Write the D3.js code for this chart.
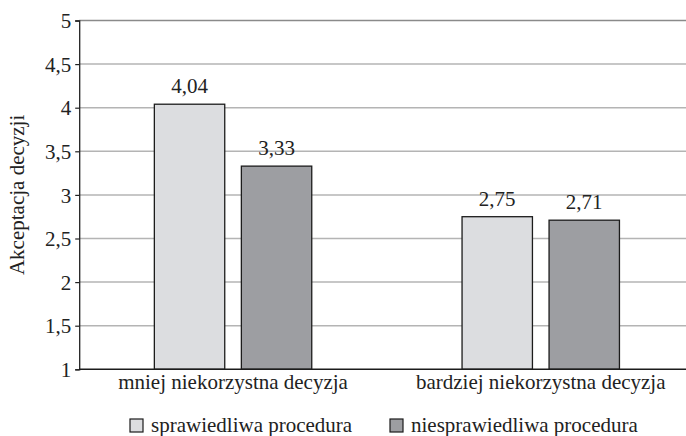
<!DOCTYPE html>
<html>
<head>
<meta charset="utf-8">
<script src="https://cdn.jsdelivr.net/npm/d3@7"></script>
<style>
  html, body { margin: 0; padding: 0; background: #fff; }
  svg { display: block; }
</style>
</head>
<body>
<svg id="chart" width="686" height="436"></svg>
<script>
// Decision acceptance by outcome favourability and procedure fairness
const categories = ["mniej niekorzystna decyzja", "bardziej niekorzystna decyzja"];
const seriesNames = ["sprawiedliwa procedura", "niesprawiedliwa procedura"];
const fairValues = [4.04, 2.75];
const unfairValues = [3.33, 2.71];
const yTicks = [1, 1.5, 2, 2.5, 3, 3.5, 4, 4.5, 5];
const seriesColors = ["#dcdde0", "#9d9ea2"];

const FONT = "'Liberation Serif', 'Times New Roman', serif";
const FS = 21;

const svg = d3.select("#chart");
const margin = { left: 79.2, top: 20.5, bottom: 369.3, right: 694.6 };

const x = d3.scaleBand().domain(categories).range([margin.left, margin.right]).padding(0);
const inner = d3.scaleBand().domain(seriesNames)
  .range([x.bandwidth() / 2 - 78.7, x.bandwidth() / 2 + 78.7])
  .paddingInner(0.191).paddingOuter(0);
const y = d3.scaleLinear().domain([1, 5]).range([margin.bottom, margin.top]);

const fmt = v => String(v).replace(".", ",");
const fmtVal = v => v.toFixed(2).replace(".", ",");

// Horizontal gridlines
svg.append("g").selectAll("line").data(yTicks.filter(t => t > 1)).join("line")
  .attr("x1", margin.left).attr("x2", margin.right)
  .attr("y1", d => y(d)).attr("y2", d => y(d))
  .attr("stroke", d => d === 5 ? "#8a8a8a" : "#b4b4b4")
  .attr("stroke-width", 1.5);

// Y axis
const yAxis = d3.axisLeft(y).tickValues(yTicks).tickFormat(fmt).tickSize(4).tickPadding(4);
const gy = svg.append("g").attr("transform", `translate(${margin.left},0)`).call(yAxis)
  .attr("font-family", FONT).attr("font-size", FS);
gy.select(".domain").attr("stroke", "#222").attr("stroke-width", 1.3);
gy.selectAll(".tick line").attr("stroke", "#222").attr("stroke-width", 1.2);
gy.selectAll(".tick text").attr("font-family", FONT).attr("font-size", FS)
  .attr("fill", "#222").attr("dy", "0.34em");

// Bars
const rows = categories.map((c, i) => ({ cat: c, vals: [fairValues[i], unfairValues[i]] }));
const groups = svg.append("g").selectAll("g").data(rows).join("g")
  .attr("transform", d => `translate(${x(d.cat)},0)`);

groups.selectAll("rect").data(d => d.vals.map((v, j) => ({ s: seriesNames[j], v, j }))).join("rect")
  .attr("x", d => inner(d.s))
  .attr("width", inner.bandwidth())
  .attr("y", d => y(d.v))
  .attr("height", d => y(1) - y(d.v))
  .attr("fill", d => seriesColors[d.j])
  .attr("stroke", "#1c1c1c")
  .attr("stroke-width", 1.3);

groups.selectAll("text.val").data(d => d.vals.map((v, j) => ({ s: seriesNames[j], v, j }))).join("text")
  .attr("class", "val")
  .attr("x", d => inner(d.s) + inner.bandwidth() / 2)
  .attr("y", d => y(d.v) - 11)
  .attr("text-anchor", "middle")
  .attr("font-family", FONT)
  .attr("font-size", FS)
  .attr("fill", "#222")
  .text(d => fmtVal(d.v));

// X axis baseline
svg.append("line")
  .attr("x1", margin.left).attr("x2", margin.right)
  .attr("y1", y(1)).attr("y2", y(1))
  .attr("stroke", "#1c1c1c").attr("stroke-width", 1.5);

// Category labels
svg.append("g").selectAll("text").data(categories).join("text")
  .attr("x", d => x(d) + x.bandwidth() / 2)
  .attr("y", 389)
  .attr("text-anchor", "middle")
  .attr("font-family", FONT)
  .attr("font-size", FS)
  .attr("fill", "#222")
  .text(d => d);

// Y axis title
svg.append("text")
  .attr("transform", `translate(24,${(margin.top + margin.bottom) / 2}) rotate(-90)`)
  .attr("text-anchor", "middle")
  .attr("font-family", FONT)
  .attr("font-size", FS)
  .attr("fill", "#222")
  .text("Akceptacja decyzji");

// Legend
const legendX = [130, 390];
const legend = svg.append("g").selectAll("g").data(seriesNames).join("g")
  .attr("transform", (d, i) => `translate(${legendX[i]},419)`);
legend.append("rect")
  .attr("width", 13).attr("height", 13)
  .attr("fill", (d, i) => seriesColors[i])
  .attr("stroke", "#1c1c1c").attr("stroke-width", 1.2);
legend.append("text")
  .attr("x", 21).attr("y", 12.5)
  .attr("font-family", FONT)
  .attr("font-size", FS)
  .attr("fill", "#222")
  .text(d => d);
</script>
</body>
</html>
